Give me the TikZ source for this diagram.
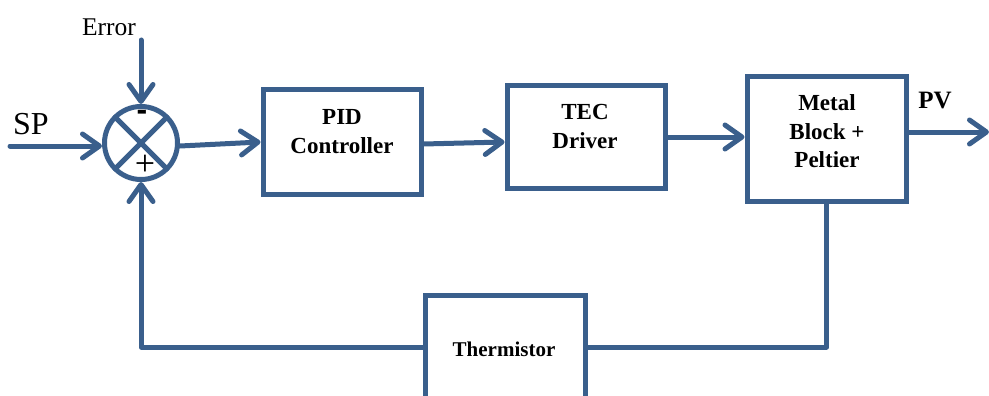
\documentclass[tikz,border=0pt]{standalone}
\usepackage{fontspec}
\setmainfont{Liberation Serif}
\newfontfamily\signfont{Liberation Sans}
\usetikzlibrary{arrows.meta}
\definecolor{lc}{RGB}{58,95,140}
\begin{document}
\begin{tikzpicture}[x=1pt,y=-1pt,
  blk/.style={draw=lc,line width=5pt,inner sep=0pt},
  wire/.style={draw=lc,line width=5pt,line cap=round,line join=round},
  conn/.style={wire,-{Straight Barb[length=17pt,width=24pt,round]}},
  lbl/.style={font=\fontsize{23}{29}\selectfont\bfseries,align=center,text=black,inner sep=0pt}]
\useasboundingbox (0,0) rectangle (989,396);
\clip (0,0) rectangle (989,396);

% blocks
\node[blk,minimum width=158pt,minimum height=104pt] (pid) at (342,142) {};
\node[blk,minimum width=158pt,minimum height=102pt] (tec) at (586,137) {};
\node[blk,minimum width=159pt,minimum height=124pt] (metal) at (826.5,139) {};
\node[blk,minimum width=160pt,minimum height=200pt] (therm) at (505,395) {};
\node[blk,circle,minimum size=73pt] (sum) at (141,143) {};
\draw[wire] ([shift={(-25.8,-25.8)}]sum.center) -- ([shift={(25.8,25.8)}]sum.center);
\draw[wire] ([shift={(25.8,-25.8)}]sum.center) -- ([shift={(-25.8,25.8)}]sum.center);

% texts
\node[lbl] (pidt) at (342,131.5) {PID\\Controller};
\node[lbl] (tect) at (585,126.5) {TEC\\Driver};
\node[lbl,font=\fontsize{23}{28.5}\selectfont\bfseries] (metalt) at (827,131.5) {Metal\\Block +\\Peltier};
\node[lbl,font=\fontsize{21}{24}\selectfont\bfseries] (thermt) at (504,349) {Thermistor};
\node[inner sep=0pt,font=\fontsize{25.5}{28}\selectfont] (errt) at (109,27) {Error};
\node[inner sep=0pt,font=\fontsize{32}{36}\selectfont] (spt) at (31,124) {SP};
\node[inner sep=0pt,font=\fontsize{25}{28}\selectfont\bfseries] (pvt) at (935,101) {PV};
\node[inner sep=0pt,font=\signfont\fontsize{32}{34}\selectfont\bfseries] (minus) at (142,115) {-};
\node[inner sep=0pt,font=\fontsize{36}{40}\selectfont] (plus) at (145,165) {+};

% free ends
\coordinate (errtop) at (141,40);
\coordinate (spstart) at (10,146);
\coordinate (pvend) at (989,132);
\coordinate (fby) at (0,347);

% connectors
\draw[conn] (errtop) -- (sum.north);
\draw[conn] (spstart) -- (sum.west |- spstart);
\draw[conn] ([yshift=-3pt]sum.east) -- (pid.west);
\draw[conn] ([yshift=-2pt]pid.east) -- ([yshift=-5pt]tec.west);
\draw[conn] (tec.east) -- (tec.east -| metal.west);
\draw[conn] (metal.east |- pvend) -- (pvend);
\draw[wire] (metal.south) |- (therm.east |- fby);
\draw[conn] (therm.west |- fby) -| (sum.south);
\end{tikzpicture}
\end{document}
